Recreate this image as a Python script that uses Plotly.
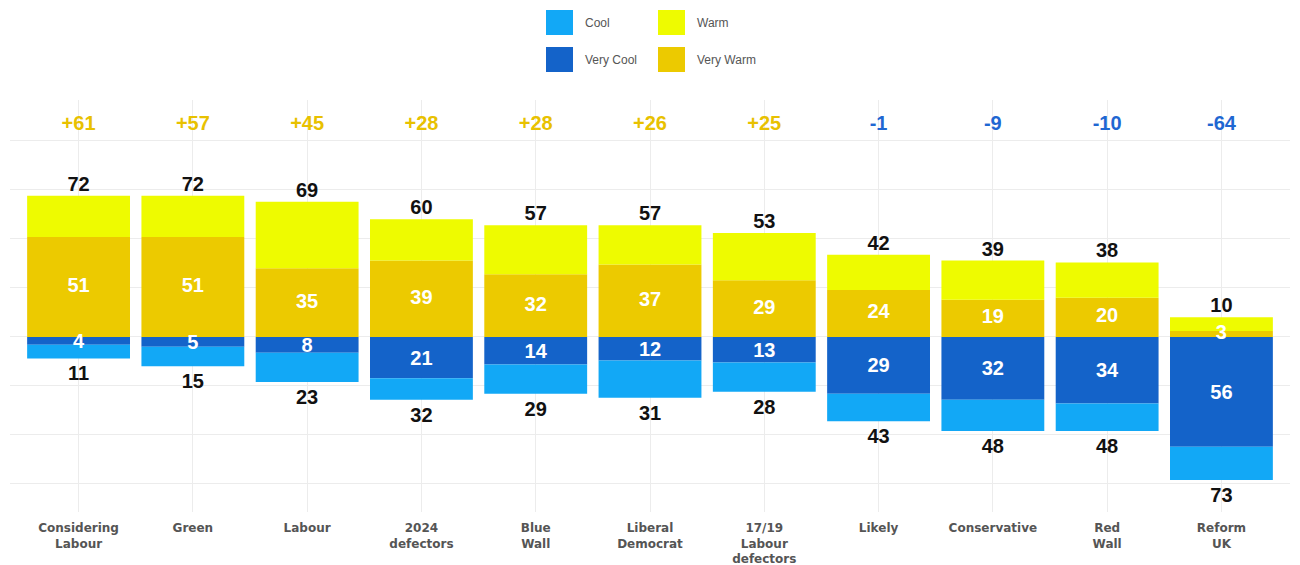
import plotly.graph_objects as go

categories = ["Considering<br>Labour", "Green", "Labour", "2024<br>defectors", "Blue<br>Wall",
              "Liberal<br>Democrat", "17/19<br>Labour<br>defectors", "Likely", "Conservative",
              "Red<br>Wall", "Reform<br>UK"]
warm_total = [72, 72, 69, 60, 57, 57, 53, 42, 39, 38, 10]
very_warm = [51, 51, 35, 39, 32, 37, 29, 24, 19, 20, 3]
cool_total = [11, 15, 23, 32, 29, 31, 28, 43, 48, 48, 73]
very_cool = [4, 5, 8, 21, 14, 12, 13, 29, 32, 34, 56]
net_labels = ["+61", "+57", "+45", "+28", "+28", "+26", "+25", "-1", "-9", "-10", "-64"]

C_COOL = "#12a8f6"
C_VCOOL = "#1463c9"
C_WARM = "#eefb00"
C_VWARM = "#ecca00"
C_POS = "#e8c100"
C_NEG = "#1f67d2"

x = list(range(len(categories)))
warm_only = [w - v for w, v in zip(warm_total, very_warm)]
cool_only = [c - v for c, v in zip(cool_total, very_cool)]

fig = go.Figure()
fig.add_trace(go.Bar(x=x, y=very_warm, marker_color=C_VWARM, marker_line_width=0, name="Very Warm", showlegend=False))
fig.add_trace(go.Bar(x=x, y=warm_only, marker_color=C_WARM, marker_line_width=0, name="Warm", showlegend=False))
fig.add_trace(go.Bar(x=x, y=[-v for v in very_cool], marker_color=C_VCOOL, marker_line_width=0, name="Very Cool", showlegend=False))
fig.add_trace(go.Bar(x=x, y=[-v for v in cool_only], marker_color=C_COOL, marker_line_width=0, name="Cool", showlegend=False))

num_font = dict(family="Liberation Sans, Arial, sans-serif", size=20, weight="bold")
LABEL_GAP = 3.5  # extra gap (axis units) under the negative totals

fig.add_trace(go.Scatter(x=x, y=[v / 2 for v in very_warm], mode="text",
                         text=[str(v) for v in very_warm], textposition="middle center",
                         textfont=dict(num_font, color="white"), showlegend=False, hoverinfo="skip"))
fig.add_trace(go.Scatter(x=x, y=[-v / 2 - 1 for v in very_cool], mode="text",
                         text=[str(v) for v in very_cool], textposition="middle center",
                         textfont=dict(num_font, color="white"), showlegend=False, hoverinfo="skip"))
fig.add_trace(go.Scatter(x=x, y=warm_total, mode="text",
                         text=[str(v) for v in warm_total], textposition="top center",
                         textfont=dict(num_font, color="#111111"), showlegend=False, hoverinfo="skip"))
fig.add_trace(go.Scatter(x=x, y=[-v - LABEL_GAP for v in cool_total], mode="text",
                         text=[str(v) for v in cool_total], textposition="bottom center",
                         textfont=dict(num_font, color="#111111"), showlegend=False, hoverinfo="skip"))
fig.add_trace(go.Scatter(x=x, y=[108] * len(x), mode="text",
                         text=net_labels, textposition="middle center",
                         textfont=dict(num_font, color=[C_POS if s.startswith("+") else C_NEG for s in net_labels]),
                         showlegend=False, hoverinfo="skip"))

# legend drawn with shapes (paper coords); plot area in page px: x 10..1290, y 100..512
def px_x(p):
    return (p - 10) / 1280.0

def px_y(p):
    return (512 - p) / 412.0

legend_items = [("Cool", C_COOL, 546, 10), ("Very Cool", C_VCOOL, 546, 47),
                ("Warm", C_WARM, 658, 10), ("Very Warm", C_VWARM, 658, 47)]
for label, color, lx, ly in legend_items:
    fig.add_shape(type="rect", xref="paper", yref="paper",
                  x0=px_x(lx), x1=px_x(lx + 27), y0=px_y(ly + 25), y1=px_y(ly),
                  fillcolor=color, line_width=0)
    fig.add_annotation(xref="paper", yref="paper", x=px_x(lx + 37), y=px_y(ly + 13),
                       text=label, showarrow=False, xanchor="left", yanchor="middle",
                       font=dict(family="Liberation Sans, Arial, sans-serif", size=12, color="#555555"))

fig.update_layout(
    barmode="relative",
    bargap=0.1,
    width=1292, height=557,
    margin=dict(l=2, r=10, t=92, b=53),
    plot_bgcolor="white", paper_bgcolor="white",
    showlegend=False,
)
fig.update_xaxes(range=[-0.6, 10.6], tickvals=x, ticktext=categories,
                 showgrid=True, gridcolor="#ececec", gridwidth=1.2, zeroline=False,
                 ticks="", ticklabelstandoff=7, automargin=False,
                 tickfont=dict(family="DejaVu Sans, sans-serif", size=12, color="#555555", weight="bold"))
fig.update_yaxes(range=[-89.3, 120.9], tickvals=[-75, -50, -25, 0, 25, 50, 75, 100],
                 showticklabels=False, showgrid=True, gridcolor="#ececec", gridwidth=1.2,
                 zeroline=True, zerolinecolor="#ececec", zerolinewidth=1.2, automargin=False)

fig.write_html("out.html")
